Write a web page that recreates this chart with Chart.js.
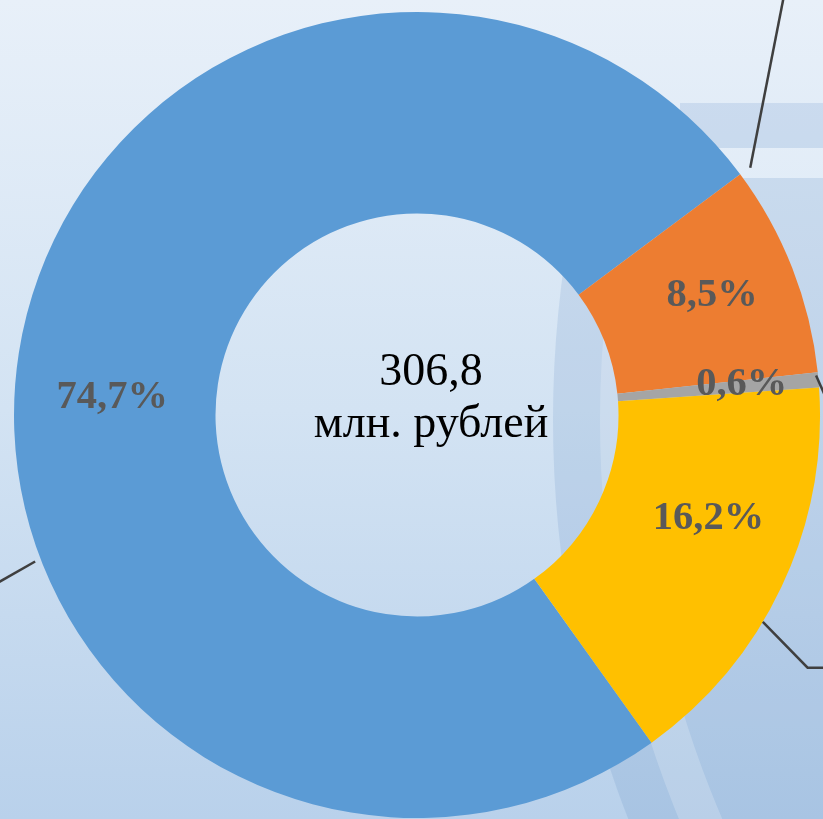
<!DOCTYPE html>
<html>
<head>
<meta charset="utf-8">
<script src="https://cdn.jsdelivr.net/npm/chart.js@4.4.1/dist/chart.umd.min.js"></script>
<style>
  html, body { margin: 0; padding: 0; background: #dce8f5; }
  canvas { display: block; }
</style>
</head>
<body>
<canvas id="myDoughnut" width="823" height="819"></canvas>
<script>
// data
const sliceNames = ['Сегмент 1', 'Сегмент 2', 'Сегмент 3', 'Сегмент 4'];
const sharePercent = [74.7, 8.5, 0.6, 16.2];
const sliceColors = ['#5b9bd5', '#ed7d31', '#a5a5a5', '#ffc000'];
const totalValue = '306,8';
const totalUnit = 'млн. рублей';

// background gradient + the faint emblem on the right
const backgroundPlugin = {
  id: 'bg',
  beforeDraw(chart) {
    const ctx = chart.ctx;
    const w = chart.width, h = chart.height;
    ctx.save();
    const g = ctx.createLinearGradient(0, 0, 0, h);
    g.addColorStop(0, '#e8f0f9');
    g.addColorStop(0.5, '#d3e3f3');
    g.addColorStop(1, '#b9d1eb');
    ctx.fillStyle = g;
    ctx.fillRect(0, 0, w, h);

    ctx.fillStyle = 'rgba(70,120,185,0.15)';
    ctx.fillRect(680, 103, w - 680, 45);
    ctx.fillStyle = 'rgba(255,255,255,0.12)';
    ctx.fillRect(680, 148, w - 680, 30);

    ctx.beginPath();
    ctx.rect(0, 178, w, h - 178);
    ctx.clip();
    ctx.fillStyle = 'rgba(70,120,185,0.14)';
    ctx.beginPath();
    ctx.arc(1648, 420, 1095, 0, Math.PI * 2);
    ctx.fill();
    ctx.strokeStyle = 'rgba(255,255,255,0.2)';
    ctx.lineWidth = 40;
    ctx.beginPath();
    ctx.arc(1648, 420, 1028, 0, Math.PI * 2);
    ctx.stroke();
    ctx.restore();
  }
};

// percentage labels inside the ring
const sliceLabelPlugin = {
  id: 'sliceLabels',
  afterDatasetsDraw(chart, args, opts) {
    const ctx = chart.ctx;
    const meta = chart.getDatasetMeta(0);
    ctx.save();
    ctx.font = 'bold 40.5px "Liberation Serif", "Times New Roman", serif';
    ctx.fillStyle = '#595959';
    ctx.textAlign = 'center';
    ctx.textBaseline = 'middle';
    meta.data.forEach((arc, i) => {
      const p = arc.getProps(['x', 'y', 'startAngle', 'endAngle', 'innerRadius', 'outerRadius'], true);
      const a = (p.startAngle + p.endAngle) / 2 + opts.angleShift[i] * Math.PI / 180;
      const r = (p.innerRadius + p.outerRadius) / 2 + opts.radiusShift[i];
      const txt = sharePercent[i].toFixed(1).replace('.', ',') + '%';
      ctx.fillText(txt, p.x + Math.cos(a) * r, p.y + Math.sin(a) * r);
    });
    ctx.restore();
  }
};

// leader lines running to the (cropped) category names
const leaderPlugin = {
  id: 'leaders',
  afterDatasetsDraw(chart, args, opts) {
    const ctx = chart.ctx;
    const meta = chart.getDatasetMeta(0);
    ctx.save();
    ctx.strokeStyle = '#3f3f3f';
    ctx.lineWidth = 2.5;
    opts.lines.forEach((l, i) => {
      const p = meta.data[i].getProps(['x', 'y', 'startAngle', 'endAngle', 'outerRadius'], true);
      const a = p.startAngle + (p.endAngle - p.startAngle) * l.at;
      const r = p.outerRadius + l.gap;
      const x0 = p.x + Math.cos(a) * r, y0 = p.y + Math.sin(a) * r;
      const d = l.dir * Math.PI / 180;
      const x1 = x0 + Math.cos(d) * l.len, y1 = y0 + Math.sin(d) * l.len;
      ctx.beginPath();
      ctx.moveTo(x0, y0);
      ctx.lineTo(x1, y1);
      if (l.tail) ctx.lineTo(x1 + l.tail, y1);
      ctx.stroke();
    });
    ctx.restore();
  }
};

// total in the hole
const centerTextPlugin = {
  id: 'centerText',
  afterDraw(chart) {
    const ctx = chart.ctx;
    const arc = chart.getDatasetMeta(0).data[0];
    const cx = arc.x + 14, cy = arc.y;
    ctx.save();
    ctx.font = '46px "Liberation Serif", "Times New Roman", serif';
    ctx.fillStyle = '#000000';
    ctx.textAlign = 'center';
    ctx.textBaseline = 'alphabetic';
    ctx.fillText(totalValue, cx, cy - 30);
    ctx.fillText(totalUnit, cx, cy + 22);
    ctx.restore();
  }
};

const ctx = document.getElementById('myDoughnut').getContext('2d');
new Chart(ctx, {
  type: 'doughnut',
  data: {
    labels: sliceNames,
    datasets: [{
      data: sharePercent,
      backgroundColor: sliceColors,
      borderWidth: 0
    }]
  },
  options: {
    responsive: false,
    animation: false,
    cutout: '50%',
    rotation: 144.4,
    layout: { padding: { left: 14, right: 3, top: 12, bottom: 1 } },
    events: [],
    plugins: {
      legend: { display: false },
      tooltip: { enabled: false },
      sliceLabels: {
        angleShift: [-5.5, -0.6, -0.4, -5.7],
        radiusShift: [3, 16, 24, 7]
      },
      leaders: {
        lines: [
          { at: 0.389, gap: 6, dir: 150.3, len: 60 },
          { at: 0.003, gap: 12, dir: -78.9, len: 190 },
          { at: 0.2, gap: -2, dir: 66, len: 22 },
          { at: 0.597, gap: 0, dir: 45.6, len: 64, tail: 40 }
        ]
      }
    }
  },
  plugins: [backgroundPlugin, sliceLabelPlugin, leaderPlugin, centerTextPlugin]
});
</script>
</body>
</html>
